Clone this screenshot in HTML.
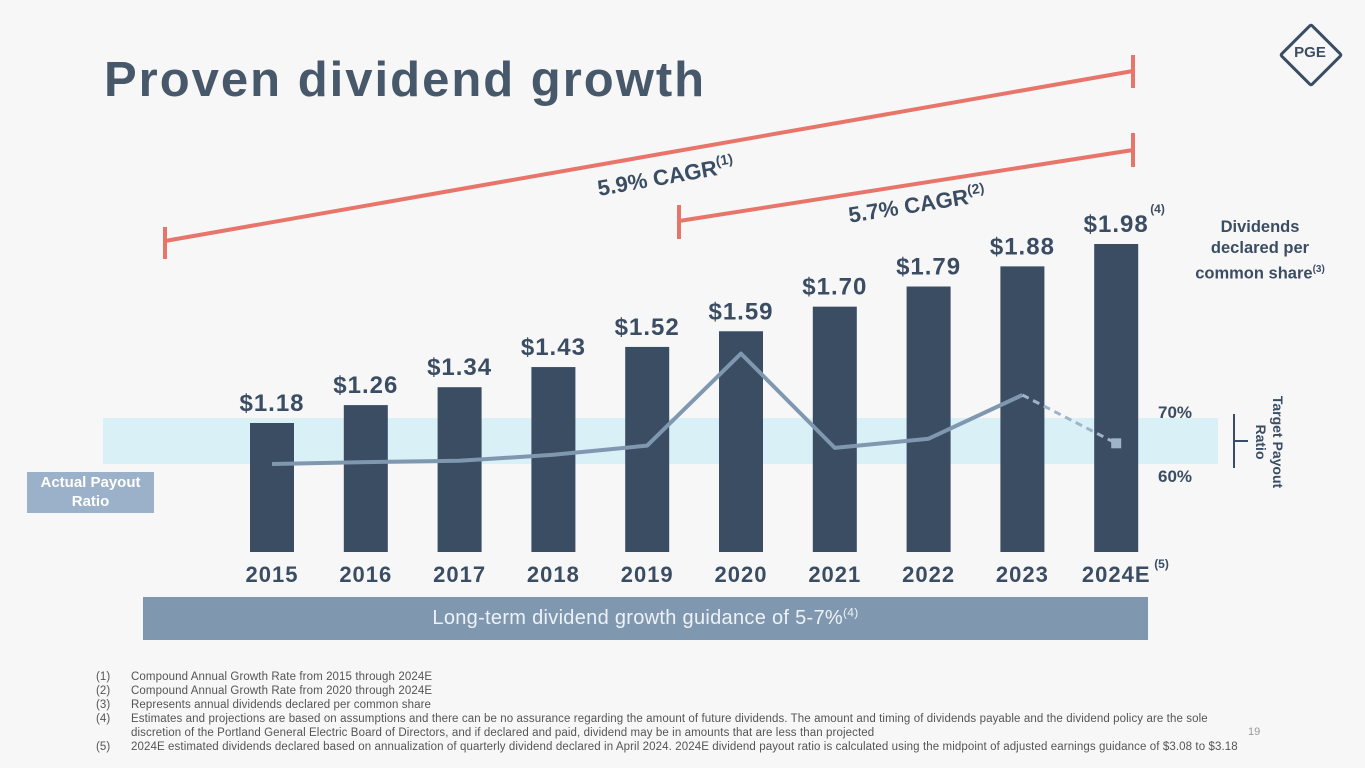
<!DOCTYPE html>
<html><head><meta charset="utf-8"><style>
body{margin:0;width:1365px;height:768px;background:#f7f7f7;overflow:hidden;position:relative;font-family:"Liberation Sans",sans-serif;color:#3b4d63}
.abs{position:absolute}
.fn{position:absolute;left:96px;font-size:11.5px;color:#555;line-height:14px;letter-spacing:0.1px}
.fn span{position:absolute;left:35px;white-space:nowrap}
</style></head><body>
<div class="abs" style="left:104px;top:52px;font-size:49px;font-weight:bold;color:#47586a;letter-spacing:2px">Proven dividend growth</div>
<div class="abs" style="left:1288px;top:32px;width:40px;height:40px;border:3px solid #3b4d63;transform:rotate(45deg);border-radius:3px"></div>
<div class="abs" style="left:1286px;top:44px;width:48px;text-align:center;font-weight:bold;font-size:15px;color:#3b4d63">PGE</div>
<svg id="chart" class="abs" style="left:0;top:0" width="1365" height="768"></svg>
<div class="abs" style="left:27px;top:472px;width:127px;height:40px;background:#9bb1c9;color:#fff;font-weight:bold;font-size:15px;text-align:center;line-height:19px;padding-top:1px">Actual Payout<br>Ratio</div>
<div class="abs" style="left:1185px;top:217px;width:150px;text-align:center;font-weight:bold;font-size:16.5px;line-height:21px;color:#3b4d63">Dividends<br>declared per<br>common share<sup style="font-size:10px">(3)</sup></div>
<div class="abs" style="left:1214px;top:425px;width:110px;text-align:center;font-weight:bold;font-size:14px;line-height:17px;white-space:nowrap;transform:rotate(90deg);transform-origin:center">Target Payout<br>Ratio</div>
<div class="abs" style="left:143px;top:597px;width:1005px;height:43px;background:#7f98b0;color:#eef2f6;font-size:20px;letter-spacing:0.3px;text-align:center;line-height:43px">Long-term dividend growth guidance of 5-7%<sup style="font-size:12px;line-height:0">(4)</sup></div>
<div class="fn" style="top:670px">(1)<span>Compound Annual Growth Rate from 2015 through 2024E</span></div>
<div class="fn" style="top:684px">(2)<span>Compound Annual Growth Rate from 2020 through 2024E</span></div>
<div class="fn" style="top:698px">(3)<span>Represents annual dividends declared per common share</span></div>
<div class="fn" style="top:712px">(4)<span>Estimates and projections are based on assumptions and there can be no assurance regarding the amount of future dividends. The amount and timing of dividends payable and the dividend policy are the sole<br>discretion of the Portland General Electric Board of Directors, and if declared and paid, dividend may be in amounts that are less than projected</span></div>
<div class="fn" style="top:740px">(5)<span>2024E estimated dividends declared based on annualization of quarterly dividend declared in April 2024. 2024E dividend payout ratio is calculated using the midpoint of adjusted earnings guidance of $3.08 to $3.18</span></div>
<div class="abs" style="left:1248px;top:726px;font-size:11px;color:#999">19</div>
<script>
const years=["2015","2016","2017","2018","2019","2020","2021","2022","2023","2024E"];
const dividends=[1.18,1.26,1.34,1.43,1.52,1.59,1.70,1.79,1.88,1.98];
const labels=["$1.18","$1.26","$1.34","$1.43","$1.52","$1.59","$1.70","$1.79","$1.88","$1.98"];
const payout=[60,60.4,60.7,62,64,84,63.5,65.5,75,64.5];
const svg=document.getElementById('chart');const NS="http://www.w3.org/2000/svg";
function mk(t,a,p){const e=document.createElementNS(NS,t);for(const k in a)e.setAttribute(k,a[k]);(p||svg).appendChild(e);return e;}
const xc=i=>272+i*93.8;
const yD=v=>423-(v-1.18)*223.75;
const yP=p=>464-(p-60)*4.6;
const base=552;
let b=mk('rect',{x:103,y:yP(70),width:1115,height:yP(60)-yP(70),fill:'#daf0f7'});


let bl=mk('path',{d:`M1234 ${yP(70)-4}V${yP(60)+4}M1234 ${(yP(70)+yP(60))/2}H1248`,stroke:'#3b4d63','stroke-width':2,fill:'none'});


[[70,'70%'],[60,'60%']].forEach(([p,t])=>{const e=mk('text',{x:1158,y:yP(p)+(p==70?0:18),'font-size':17,'font-weight':'bold',fill:'#3b4d63'});e.textContent=t;

});
dividends.forEach((v,i)=>{
 const r=mk('rect',{x:xc(i)-22,y:yD(v),width:44,height:base-yD(v),fill:'#3b4d63'});
 
 
 const t=mk('text',{x:xc(i),y:yD(v)-12,'text-anchor':'middle','font-size':24,'font-weight':'bold','letter-spacing':1,fill:'#3b4d63'});t.textContent=labels[i];
 
 
 const y=mk('text',{x:xc(i),y:582,'text-anchor':'middle','font-size':22,'font-weight':'bold','letter-spacing':1,fill:'#3b4d63'});y.textContent=years[i];
 
 
});
let s4=mk('text',{x:xc(9)+34,y:yD(1.98)-31,'font-size':12,'font-weight':'bold',fill:'#3b4d63'});s4.textContent='(4)';


let s5=mk('text',{x:xc(9)+38,y:568,'font-size':12,'font-weight':'bold',fill:'#3b4d63'});s5.textContent='(5)';


let d='';for(let i=0;i<9;i++)d+=(i?'L':'M')+xc(i)+' '+yP(payout[i]);
let pl=mk('path',{d:d,stroke:'#7f98b0','stroke-width':4,fill:'none','stroke-linejoin':'round'});


let pd=mk('path',{d:`M${xc(8)} ${yP(payout[8])}L${xc(9)} ${yP(payout[9])}`,stroke:'#9fb4c8','stroke-width':3,'stroke-dasharray':'7 5',fill:'none'});


let pm=mk('rect',{x:xc(9)-5,y:yP(payout[9])-5,width:10,height:10,fill:'#9fb4c8'});


const c='#e8756a';
let c1=mk('path',{d:'M165 241L1133 71M165 227V259M1133 55V88',stroke:c,'stroke-width':4,fill:'none'});


let c2=mk('path',{d:'M679 221L1133 150M679 205V239M1133 133V167',stroke:c,'stroke-width':4,fill:'none'});


let t1=mk('text',{x:0,y:0,'font-size':22,'font-weight':'bold',fill:'#3b4d63','text-anchor':'middle',transform:'translate(667,184) rotate(-10)'});t1.innerHTML='5.9% CAGR<tspan font-size="14" dy="-9">(1)</tspan>';


let t2=mk('text',{x:0,y:0,'font-size':22,'font-weight':'bold',fill:'#3b4d63','text-anchor':'middle',transform:'translate(918,212) rotate(-9)'});t2.innerHTML='5.7% CAGR<tspan font-size="14" dy="-9">(2)</tspan>';


</script>
</body></html>
